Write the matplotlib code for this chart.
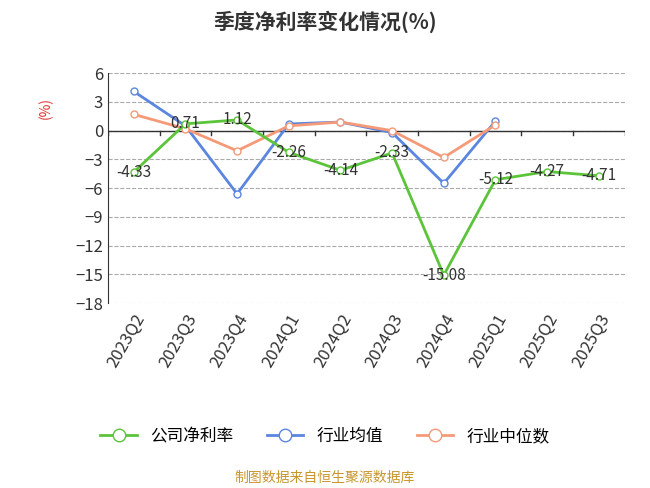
import matplotlib
matplotlib.use('Agg')
import matplotlib.pyplot as plt
plt.rcParams['font.family'] = ['Noto Sans CJK SC', 'DejaVu Sans']

quarters = ['2023Q2','2023Q3','2023Q4','2024Q1','2024Q2','2024Q3','2024Q4','2025Q1','2025Q2','2025Q3']
company = [-4.33, 0.71, 1.12, -2.26, -4.14, -2.33, -15.08, -5.12, -4.27, -4.71]
industry_avg = [4.1, 0.5, -6.6, 0.7, 0.9, -0.2, -5.5, 1.0]
industry_med = [1.7, 0.2, -2.1, 0.5, 0.9, 0.0, -2.8, 0.6]
yticks = [6, 3, 0, -3, -6, -9, -12, -15, -18]

fig = plt.figure(figsize=(6.5, 4.88), dpi=100)
ax = fig.add_axes([0.166, 0.379, 0.795, 0.471])
x = list(range(len(quarters)))
green, blue, orange = '#5cc43a', '#5b86e0', '#f59a78'
ax.plot(x[:8], industry_avg, color=blue, lw=2, marker='o', ms=5, mfc='white', mec=blue, label='行业均值', zorder=3)
ax.plot(x[:8], industry_med, color=orange, lw=2, marker='o', ms=5, mfc='white', mec=orange, label='行业中位数', zorder=3)
ax.plot(x, company, color=green, lw=2, marker='o', ms=5, mfc='white', mec=green, label='公司净利率', zorder=4)
for xi, v in zip(x, company):
    ax.text(xi, v, f'{v:.2f}', ha='center', va='center', fontsize=11, color='#333333', zorder=5)

ax.set_xlim(-0.5, 9.5)
ax.set_ylim(-18, 6)
ax.set_yticks(yticks)
ax.set_xticks(x)
ax.set_xticklabels(quarters, rotation=60, ha='right', rotation_mode='anchor', fontsize=12, color='#333333')
ax.tick_params(axis='y', labelsize=12, colors='#333333', length=0)
ax.tick_params(axis='x', length=0, pad=6)
ax.grid(axis='y', ls='--', color='#aaaaaa', lw=0.8)
for s in ['top', 'right', 'bottom']:
    ax.spines[s].set_visible(False)
ax.spines['left'].set_color('#333333')
ax.axhline(0, color='#333333', lw=1, zorder=2)
for xi in [i - 0.5 for i in range(11)]:
    ax.plot([xi, xi], [0, -0.5], color='#333333', lw=1, zorder=2)
ax.text(-0.12, 0.85, '(%)', transform=ax.transAxes, rotation=90, color='#e03030', fontsize=10, ha='center', va='center')

fig.text(0.5, 0.955, '季度净利率变化情况(%)', ha='center', va='center', fontsize=15, fontweight='bold', color='#333333')
handles, labels = ax.get_legend_handles_labels()
order = [2, 0, 1]
fig.legend([handles[i] for i in order], [labels[i] for i in order], loc='center', bbox_to_anchor=(0.5, 0.105), ncol=3, frameon=False, fontsize=12, handlelength=2.2, markerscale=1.8)
fig.text(0.5, 0.02, '制图数据来自恒生聚源数据库', ha='center', va='center', fontsize=10, color='#c9962e')
fig.savefig('out.png', dpi=100)
